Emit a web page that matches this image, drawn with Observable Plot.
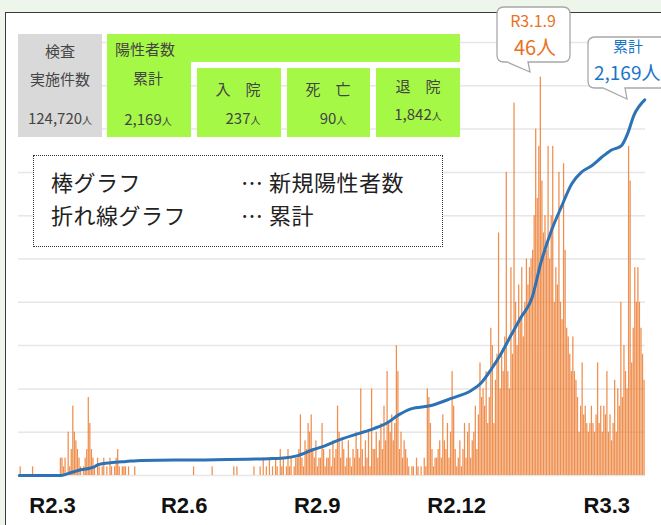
<!DOCTYPE html>
<html>
<head>
<meta charset="utf-8">
<script src="https://cdn.jsdelivr.net/npm/d3@7"></script>
<script src="https://cdn.jsdelivr.net/npm/@observablehq/plot@0.6"></script>
<style>
html, body { margin: 0; padding: 0; }
body { width: 661px; height: 525px; background: #eef5ea; position: relative; overflow: hidden;
  font-family: "Noto Sans CJK JP", "Noto Sans", sans-serif; }
#panel { position: absolute; left: 5px; top: 12px; width: 680px; height: 540px; box-sizing: border-box;
  border: 1.5px solid #3a3a3a; background: #fff; }
#bars, #line { position: absolute; left: 0; top: 0; }
.box { position: absolute; }
.gray { background: #d9d9d9; }
.green { background: #a6f846; }
.t { position: absolute; transform: translate(-50%, -50%); white-space: nowrap; color: #444; font-size: 15px; line-height: 1; }
.tl { position: absolute; transform: translate(0, -50%); white-space: nowrap; color: #444; font-size: 15px; line-height: 1; }
.u { font-size: 10px; }
#legend { position: absolute; left: 33px; top: 155px; width: 410px; height: 92px; box-sizing: border-box;
  border: 1px dotted #333; background: #fff; }
.lg { position: absolute; transform: translate(0, -50%); white-space: nowrap; color: #222; font-size: 22px; line-height: 1; letter-spacing: 0.5px; }
#callouts { position: absolute; left: 0; top: 0; }
</style>
</head>
<body>
<div id="panel"></div>
<div id="bars"></div>
<div id="line"></div>

<div class="box gray" style="left:18px;top:34px;width:84px;height:103px"></div>
<div class="box green" style="left:107px;top:34px;width:353px;height:28px"></div>
<div class="box green" style="left:107px;top:62px;width:84px;height:75px"></div>
<div class="box green" style="left:197px;top:68px;width:84px;height:69px"></div>
<div class="box green" style="left:287px;top:68px;width:83px;height:69px"></div>
<div class="box green" style="left:376px;top:68px;width:84px;height:69px"></div>

<div id="labels"></div>

<div id="legend"></div>
<div class="lg" style="left:51px;top:181px">棒グラフ</div>
<div class="lg" style="left:241px;top:181px">…</div>
<div class="lg" style="left:269px;top:181px">新規陽性者数</div>
<div class="lg" style="left:51px;top:214px">折れ線グラフ</div>
<div class="lg" style="left:241px;top:214px">…</div>
<div class="lg" style="left:269px;top:214px">累計</div>

<svg id="callouts" width="661" height="525">
  <path d="M504,7 H563 Q570,7 570,14 V55 Q570,62 563,62 H528 L530,72 L507,62 H504 Q497,62 497,55 V14 Q497,7 504,7 Z" fill="#fff" stroke="#a8a8a8" stroke-width="1.3"/>
  <text x="533" y="27" text-anchor="middle" fill="#e8731f" font-size="16" font-family="Noto Sans CJK JP, sans-serif">R3.1.9</text>
  <text x="535" y="55" text-anchor="middle" fill="#e8731f" font-size="20" font-family="Noto Sans CJK JP, sans-serif">46人</text>
  <path d="M595,37 H680 V88 H625 L627,99 L603,88 H595 Q588,88 588,81 V44 Q588,37 595,37 Z" fill="#fff" stroke="#a8a8a8" stroke-width="1.3"/>
  <text x="628" y="52" text-anchor="middle" fill="#1b75c6" font-size="15" font-family="Noto Sans CJK JP, sans-serif">累計</text>
  <text x="594" y="80" text-anchor="start" fill="#1b75c6" font-size="19" font-family="Noto Sans CJK JP, sans-serif">2,169人</text>
</svg>

<script>
// ---- data ----
const startDate = "2020-02-07";
// daily new positives (新規陽性者数), one value per day from startDate
const daily = [
  0,1,0,0,0,0,0,0,0,1,
  0,0,0,0,0,0,0,0,0,0,
  0,0,0,0,0,0,0,2,2,1,
  2,0,5,1,3,8,5,4,3,2,
  1,0,1,2,3,9,6,3,2,1,
  0,2,1,0,1,2,0,1,0,2,
  1,0,1,2,3,1,0,1,1,1,
  0,1,0,0,0,1,0,0,0,0,
  0,0,0,0,0,0,0,0,0,0,
  0,0,0,0,0,0,0,0,0,0,
  0,0,0,0,0,0,0,0,0,0,
  0,0,0,1,0,0,0,0,0,0,
  0,0,0,0,0,1,0,0,0,0,
  0,0,0,0,0,0,0,0,0,1,
  0,1,0,0,0,0,0,0,0,0,
  0,0,1,0,0,0,1,0,2,0,
  1,0,2,0,1,0,2,1,0,3,
  1,2,0,1,3,1,2,0,1,2,
  2,3,7,2,1,4,3,6,5,7,
  3,2,4,1,2,2,6,3,1,2,
  2,3,1,4,2,3,8,5,2,4,
  3,1,2,4,2,1,3,2,5,3,
  2,10,3,1,4,2,5,1,10,3,
  3,5,2,4,6,3,8,4,12,6,
  5,7,4,6,15,12,3,5,2,4,
  3,2,1,0,1,1,0,2,1,0,
  1,0,2,1,10,9,6,3,1,2,
  2,3,4,2,7,4,3,6,2,5,
  12,8,3,1,2,4,1,3,6,2,
  5,6,2,4,5,8,3,7,13,9,
  10,8,12,6,9,17,15,6,11,14,
  28,10,14,12,16,35,12,10,24,14,
  43,20,15,22,18,24,16,20,25,22,
  24,25,26,30,40,32,38,46,34,28,
  30,26,38,25,30,38,20,24,22,35,
  20,18,36,26,17,16,14,12,16,12,
  11,9,5,8,13,7,8,6,5,6,
  8,6,5,7,13,6,8,5,8,7,
  12,5,7,4,6,11,5,10,8,20,
  9,15,12,10,38,34,13,17,24,20,
  24,20,17,14,11
];
// cumulative (累計): day offset from startDate, value
const cumDays = [0,27,32,38,48,51,59,69,79,118,161,169,180,190,197,208,219,229,238,245,253,266,279,292,298,305,311,318,324,331,337,344,350,357,363,370,376,382,389,393,397,404];
const cumVals = [0,0,12,29,48,63,74,81,87,90,97,100,115,150,170,210,242,271,306,350,385,404,445,491,531,615,700,815,912,1020,1230,1420,1548,1686,1750,1790,1836,1877,1905,1975,2079,2169];
// x-axis tick labels and the dates where they sit
const tickDates = ["2020-02-29","2020-05-24","2020-08-18","2020-11-16","2021-02-21"];
const tickLabels = ["R2.3","R2.6","R2.9","R2.12","R3.3"];
const barTicks = [0,5,10,15,20,25,30,35,40,45,50];
// summary boxes
const statHeads = ["検査", "実施件数", "陽性者数", "累計", "入　院", "死　亡", "退　院"];
const statValues = ["124,720", "2,169", "237", "90", "1,842"];

// ---- build ----
const start = new Date(startDate + "T00:00:00Z");
const rows = daily.map((v, i) => ({date: d3.utcDay.offset(start, i), v}));
const cumRows = cumDays.map((d, i) => ({date: new Date(+d3.utcDay.offset(start, d) + 12 * 3600e3), v: cumVals[i]}));
const xDomain = [start, d3.utcDay.offset(start, daily.length)];
const tDates = tickDates.map(s => new Date(s + "T00:00:00Z"));
const labelMap = new Map(tDates.map((d, i) => [+d, tickLabels[i]]));

const W = 661, H = 525, ML = 18, MR = 16, MT = 42, MB = 50;
const common = {width: W, height: H, marginLeft: ML, marginRight: MR, marginTop: MT, marginBottom: MB};

const barPlot = Plot.plot({
  ...common,
  style: {background: "transparent", fontFamily: "'Liberation Sans', Arial, sans-serif", color: "#111"},
  x: {type: "utc", domain: xDomain, axis: null},
  y: {domain: [0, 50], axis: null},
  marks: [
    Plot.gridY(barTicks, {stroke: "#e6e6e6", strokeOpacity: 1, strokeWidth: 1.5}),
    Plot.rectY(rows.filter(d => d.v > 0), {x: "date", y: "v", interval: d3.utcDay, fill: "#ec7a2e", fillOpacity: 0.85, insetRight: 0.3}),
    Plot.axisX(tDates, {tickSize: 0, tickPadding: 22, fontSize: 22, fontWeight: "bold", tickFormat: d => labelMap.get(+d)})
  ]
});
document.getElementById("bars").appendChild(barPlot);

const linePlot = Plot.plot({
  ...common,
  style: {background: "transparent"},
  x: {type: "utc", domain: xDomain, axis: null},
  y: {domain: [0, 2500], axis: null},
  marks: [
    Plot.line(cumRows, {x: "date", y: "v", stroke: "#2c72b4", strokeWidth: 3, curve: "monotone-x"})
  ]
});
document.getElementById("line").appendChild(linePlot);

// summary box labels
const lab = document.getElementById("labels");
function put(cls, x, y, html) {
  const el = document.createElement("div");
  el.className = cls; el.style.left = x + "px"; el.style.top = y + "px"; el.innerHTML = html;
  lab.appendChild(el);
}
put("t", 60, 50, statHeads[0]);
put("t", 60, 78, statHeads[1]);
put("t", 60, 117, statValues[0] + '<span class="u">人</span>');
put("tl", 115, 48, statHeads[2]);
put("t", 148, 77, statHeads[3]);
put("t", 148, 118, statValues[1] + '<span class="u">人</span>');
put("t", 238, 88, statHeads[4]);
put("t", 243, 117, statValues[2] + '<span class="u">人</span>');
put("t", 328, 88, statHeads[5]);
put("t", 333, 117, statValues[3] + '<span class="u">人</span>');
put("t", 418, 85, statHeads[6]);
put("t", 418, 113, statValues[4] + '<span class="u">人</span>');
</script>
</body>
</html>
